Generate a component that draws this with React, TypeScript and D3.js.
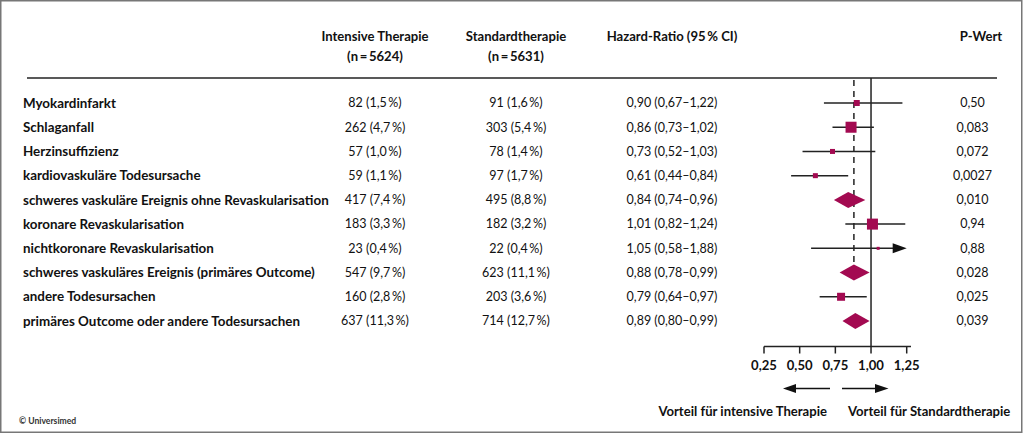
import React from "react";
import * as d3 from "d3";

const outcomes = [
  "Myokardinfarkt",
  "Schlaganfall",
  "Herzinsuffizienz",
  "kardiovaskuläre Todesursache",
  "schweres vaskuläre Ereignis ohne Revaskularisation",
  "koronare Revaskularisation",
  "nichtkoronare Revaskularisation",
  "schweres vaskuläres Ereignis (primäres Outcome)",
  "andere Todesursachen",
  "primäres Outcome oder andere Todesursachen",
];
const intensiveN = [82, 262, 57, 59, 417, 183, 23, 547, 160, 637];
const intensivePct = ["1,5", "4,7", "1,0", "1,1", "7,4", "3,3", "0,4", "9,7", "2,8", "11,3"];
const standardN = [91, 303, 78, 97, 495, 182, 22, 623, 203, 714];
const standardPct = ["1,6", "5,4", "1,4", "1,7", "8,8", "3,2", "0,4", "11,1", "3,6", "12,7"];
const hr = [0.9, 0.86, 0.73, 0.61, 0.84, 1.01, 1.05, 0.88, 0.79, 0.89];
const ciLow = [0.67, 0.73, 0.52, 0.44, 0.74, 0.82, 0.58, 0.78, 0.64, 0.8];
const ciHigh = [1.22, 1.02, 1.03, 0.84, 0.96, 1.24, 1.88, 0.99, 0.97, 0.99];
const isComposite = [false, false, false, false, true, false, false, true, false, true];
const weights = [6, 11, 5, 5, 0, 11, 3, 0, 8, 0];
const pValues = ["0,50", "0,083", "0,072", "0,0027", "0,010", "0,94", "0,88", "0,028", "0,025", "0,039"];
const axisTicks = [0.25, 0.5, 0.75, 1.0, 1.25];
const primaryHR = 0.88;

const FONT = "Lato, 'DejaVu Sans', sans-serif";
const MAG = "#a30a51";
const fmt = (v: number) => v.toFixed(2).replace(".", ",");

export default function App() {
  const W = 1024;
  const H = 433;
  const x = d3.scaleLinear().domain([0.25, 1.25]).range([764, 906.7]);
  const xMax = 1.28;
  const y = d3
    .scalePoint<number>()
    .domain(d3.range(outcomes.length))
    .range([103, 321]);

  const colI = 375;
  const colS = 516;
  const colHR = 672;
  const colP = 972.5;
  const headerLineY = 78;
  const axisY = 346.5;

  return (
    <svg
      width={W}
      height={H}
      style={{ position: "absolute", left: 0, top: 0, background: "#fff" }}
      fontFamily={FONT}
    >
      <rect x={0.75} y={0.75} width={1021} height={431.5} fill="#fff" stroke="#777" strokeWidth={1.5} />

      {/* header */}
      <g fontWeight="bold" fontSize={13.1} fill="#111" textAnchor="middle">
        <text x={colI} y={41}>Intensive Therapie</text>
        <text x={colI} y={61}>(n{"\u2009"}={"\u2009"}5624)</text>
        <text x={colS} y={41}>Standardtherapie</text>
        <text x={colS} y={61}>(n{"\u2009"}={"\u2009"}5631)</text>
        <text x={colHR} y={41}>Hazard-Ratio (95{"\u2009"}% CI)</text>
        <text x={981} y={41}>P-Wert</text>
      </g>
      <line x1={27} x2={997} y1={headerLineY} y2={headerLineY} stroke="#222" strokeWidth={1.5} />

      {/* rows */}
      {outcomes.map((o, i) => {
        const yy = y(i) as number;
        return (
          <g key={o} fontSize={12.5} fill="#111">
            <text x={23} y={yy} dy="0.35em" fontWeight="bold" fontSize={13.4}>{o}</text>
            <text x={colI} y={yy} dy="0.35em" textAnchor="middle">
              {`${intensiveN[i]} (${intensivePct[i]}\u2009%)`}
            </text>
            <text x={colS} y={yy} dy="0.35em" textAnchor="middle">
              {`${standardN[i]} (${standardPct[i]}\u2009%)`}
            </text>
            <text x={colHR} y={yy} dy="0.35em" textAnchor="middle">
              {`${fmt(hr[i])} (${fmt(ciLow[i])}\u2013${fmt(ciHigh[i])})`}
            </text>
            <text x={colP} y={yy} dy="0.35em" textAnchor="middle">{pValues[i]}</text>
          </g>
        );
      })}

      {/* reference lines */}
      <line x1={x(1)} x2={x(1)} y1={headerLineY} y2={axisY} stroke="#222" strokeWidth={1.5} />
      <line
        x1={x(primaryHR)}
        x2={x(primaryHR)}
        y1={80}
        y2={(y(7) as number) - 6}
        stroke="#222"
        strokeWidth={1.5}
        strokeDasharray="6,5"
      />

      {/* forest marks */}
      {outcomes.map((o, i) => {
        const yy = y(i) as number;
        const hi = Math.min(ciHigh[i], xMax);
        const clipped = ciHigh[i] > xMax;
        if (isComposite[i]) {
          const pts = [
            [x(ciLow[i]), yy],
            [x(hr[i]), yy - 8],
            [x(ciHigh[i]), yy],
            [x(hr[i]), yy + 8],
          ];
          return <polygon key={o} points={pts.map((p) => p.join(",")).join(" ")} fill={MAG} />;
        }
        const s = weights[i];
        const tip = x(1.25);
        return (
          <g key={o}>
            <line
              x1={x(ciLow[i])}
              x2={clipped ? tip - 12 : x(hi)}
              y1={yy}
              y2={yy}
              stroke="#222"
              strokeWidth={1.5}
            />
            {clipped && (
              <polygon
                points={`${tip - 14},${yy - 5} ${tip},${yy} ${tip - 14},${yy + 5}`}
                fill="#111"
              />
            )}
            <rect x={x(hr[i]) - s / 2} y={yy - s / 2} width={s} height={s} fill={MAG} />
          </g>
        );
      })}

      {/* axis */}
      <line x1={x(0.25)} x2={x(xMax)} y1={axisY} y2={axisY} stroke="#222" strokeWidth={1.5} />
      {axisTicks.map((t) => (
        <g key={t}>
          <line x1={x(t)} x2={x(t)} y1={axisY} y2={axisY + 7} stroke="#222" strokeWidth={1.5} />
          <text
            x={x(t)}
            y={365}
            dy="0.35em"
            textAnchor="middle"
            fontWeight="bold"
            fontSize={13.1}
            fill="#111"
          >
            {fmt(t)}
          </text>
        </g>
      ))}

      {/* direction arrows */}
      <line x1={830} x2={790} y1={388.5} y2={388.5} stroke="#111" strokeWidth={1.5} />
      <polygon points={`${783},388.5 ${796},384 ${796},393`} fill="#111" />
      <line x1={842} x2={882} y1={388.5} y2={388.5} stroke="#111" strokeWidth={1.5} />
      <polygon points={`${888.5},388.5 ${875},384 ${875},393`} fill="#111" />
      <g fontWeight="bold" fontSize={13.1} fill="#111">
        <text x={827} y={411.5} dy="0.35em" textAnchor="end">Vorteil für intensive Therapie</text>
        <text x={848} y={411.5} dy="0.35em">Vorteil für Standardtherapie</text>
      </g>

      <text x={19} y={421} dy="0.35em" fontSize={8.6} fontWeight="bold" fill="#333">© Universimed</text>
    </svg>
  );
}
